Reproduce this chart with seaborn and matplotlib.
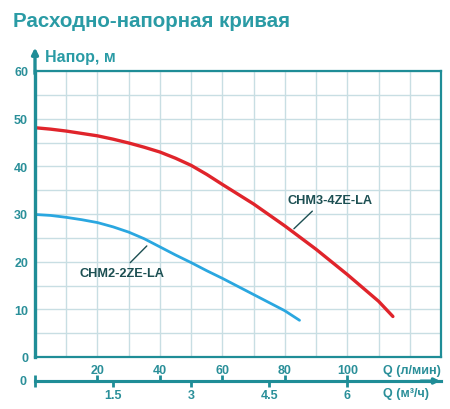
import seaborn as sns
import pandas as pd
import matplotlib.pyplot as plt

# Flow Q (l/min) vs head H (m)
red_q = [0, 5, 10, 15, 20, 25, 30, 35, 40, 45, 50, 55, 60, 70, 80, 90, 100, 110, 114.6]
red_h = [48.1, 47.8, 47.4, 46.9, 46.4, 45.7, 44.9, 44.0, 43.0, 41.7, 40.2, 38.3, 36.2,
         32.1, 27.5, 22.6, 17.3, 11.7, 8.5]
blue_q = [0, 5, 10, 15, 20, 25, 30, 35, 40, 45, 50, 55, 60, 70, 80, 84.7]
blue_h = [29.9, 29.7, 29.3, 28.8, 28.2, 27.3, 26.2, 24.8, 23.1, 21.4, 19.8, 18.1, 16.5,
          13.1, 9.7, 7.7]
models = ["CHM3-4ZE-LA", "CHM2-2ZE-LA"]

lpm_ticks = [20, 40, 60, 80, 100]
m3h_ticks = [1.5, 3, 4.5, 6]
y_ticks = [0, 10, 20, 30, 40, 50, 60]

teal = "#1f8d97"
title_col = "#2a9ba5"
label_col = "#2a8f99"
dark = "#1c4f52"
grid_col = "#c8dee3"
red = "#e0242b"
blue = "#2aa7e0"

df = pd.concat([
    pd.DataFrame({"q": red_q, "h": red_h, "model": models[0]}),
    pd.DataFrame({"q": blue_q, "h": blue_h, "model": models[1]}),
])

sns.set_style("white")
plt.rcParams["font.family"] = ["Liberation Sans", "DejaVu Sans"]
plt.rcParams["font.weight"] = "bold"

fig = plt.figure(figsize=(4.5, 4.1), dpi=100)
ax = fig.add_axes([35 / 450, 1 - 358 / 410, 406 / 450, 286 / 410])

sns.lineplot(data=df, x="q", y="h", hue="model", palette={models[0]: red, models[1]: blue},
             legend=False, ax=ax, sort=False)
for line, lw in zip(ax.lines, [2.4, 2.0]):
    line.set_linewidth(lw)
    line.set_solid_capstyle("round")
    line.set_solid_joinstyle("round")

ax.set_xlim(0, 130)
ax.set_ylim(0, 60)
ax.set_xlabel("")
ax.set_ylabel("")

# grid every 10 l/min and every 5 m
xt = list(range(0, 131, 10))
ax.set_xticks(xt)
ax.set_xticklabels([str(v) if v in lpm_ticks else "" for v in xt])
yt = list(range(0, 61, 5))
ax.set_yticks(yt)
ax.set_yticklabels([str(v) if v in y_ticks else "" for v in yt])
ax.tick_params(axis="x", length=0, pad=5.3, labelsize=9, labelcolor=label_col)
ax.tick_params(axis="y", length=0, pad=5, labelsize=9, labelcolor=label_col)
ax.grid(True, color=grid_col, lw=1)
ax.set_axisbelow(True)

for s in ["top", "right", "bottom"]:
    ax.spines[s].set_color(teal)
    ax.spines[s].set_linewidth(1.6)
ax.spines["left"].set_color(teal)
ax.spines["left"].set_linewidth(2.4)

# arrow on the head axis
ax.annotate("", xy=(0, 1.082), xytext=(0, 0.99), xycoords="axes fraction",
            arrowprops=dict(arrowstyle="-|>", color=teal, lw=2.4, mutation_scale=9,
                            shrinkA=0, shrinkB=0), annotation_clip=False)

# lower flow axis: l/min ticks up, m3/h ticks down
loc = -24 / 286
sec1 = ax.secondary_xaxis(loc, functions=(lambda x: x, lambda x: x))
sec1.set_xticks([0] + lpm_ticks)
sec1.set_xticklabels([])
sec1.tick_params(direction="in", length=4, width=2, color=teal)
sec1.spines["bottom"].set_color(teal)
sec1.spines["bottom"].set_linewidth(2.2)

sec2 = ax.secondary_xaxis(loc, functions=(lambda x: x * 0.06, lambda x: x / 0.06))
sec2.set_xticks([0] + m3h_ticks)
sec2.set_xticklabels([""] + [f"{v:g}" for v in m3h_ticks])
sec2.tick_params(direction="out", length=4, width=2, color=teal, pad=2,
                 labelsize=9, labelcolor=label_col)
sec2.spines["bottom"].set_color(teal)
sec2.spines["bottom"].set_linewidth(2.2)

ax.annotate("", xy=(0.998, loc), xytext=(0.95, loc), xycoords="axes fraction",
            arrowprops=dict(arrowstyle="-|>", color=teal, lw=2.2, mutation_scale=8,
                            shrinkA=0, shrinkB=0), annotation_clip=False)
ax.text(-0.022, loc, "0", transform=ax.transAxes, ha="right", va="center",
        fontsize=9, color=label_col, fontweight="bold")

fig.text(383 / 450, 1 - 371 / 410, "Q (л/мин)", ha="left", va="center",
         fontsize=9, color=label_col, fontweight="bold")
fig.text(383 / 450, 1 - 394 / 410, "Q (м³/ч)", ha="left", va="center",
         fontsize=9, color=label_col, fontweight="bold")

# curve labels with leader lines
ax.text(80.8, 32.9, models[0], ha="left", va="center", fontsize=9.2, color=dark,
        fontweight="bold")
ax.annotate("", xy=(82.9, 26.9), xytext=(88.8, 30.6),
            arrowprops=dict(arrowstyle="-", color=dark, lw=1, shrinkA=0, shrinkB=0))
ax.text(14.2, 17.7, models[1], ha="left", va="center", fontsize=9.2, color=dark,
        fontweight="bold")
ax.annotate("", xy=(30.5, 19.8), xytext=(35.8, 23.3),
            arrowprops=dict(arrowstyle="-", color=dark, lw=1, shrinkA=0, shrinkB=0))

fig.text(13 / 450, 1 - 26.7 / 410, "Расходно-напорная кривая", ha="left", va="baseline",
         fontsize=14.8, color=title_col, fontweight="bold")
fig.text(45 / 450, 1 - 61.7 / 410, "Напор, м", ha="left", va="baseline",
         fontsize=11.5, color=title_col, fontweight="bold")

fig.savefig("out.png", dpi=100)
